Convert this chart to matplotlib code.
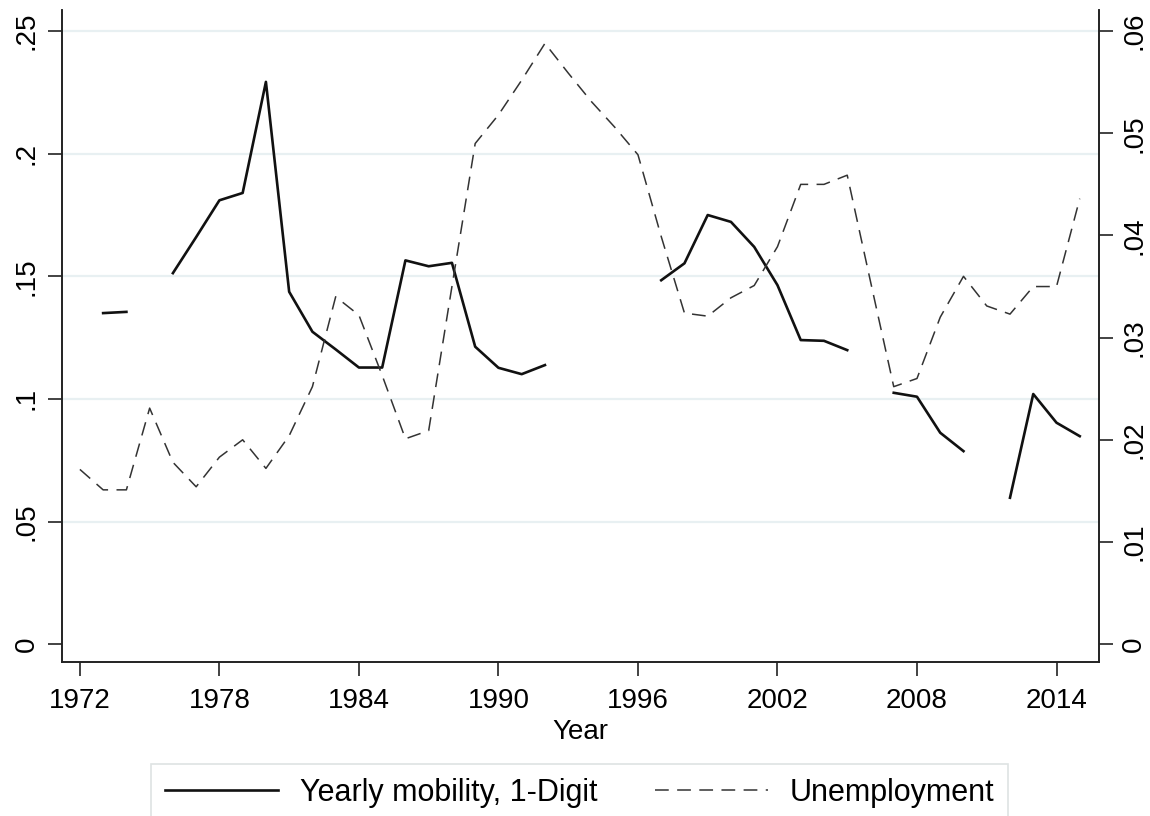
import numpy as np
import matplotlib
matplotlib.use("Agg")
import matplotlib.pyplot as plt

nan = np.nan

# Years covered by both series.
years = list(range(1972, 2016))

# Yearly occupational mobility (1-digit), gaps where no survey year.
mobility = [nan, 0.1350, 0.1355, nan, 0.1513, 0.1660, 0.1810, 0.1840, 0.2293, 0.1437,
            0.1274, 0.1202, 0.1128, 0.1128, 0.1565, 0.1541, 0.1555, 0.1213, 0.1127, 0.1101,
            0.1138, nan, nan, nan, nan, 0.1484, 0.1553, 0.1750, 0.1722, 0.1620,
            0.1464, 0.1240, 0.1237, 0.1199, nan, 0.1025, 0.1009, 0.0862, 0.0787, nan,
            0.0597, 0.1020, 0.0903, 0.0848]

# Unemployment rate (right axis).
unemployment = [0.0171, 0.0151, 0.0151, 0.0231, 0.0178, 0.0154, 0.0183, 0.0200, 0.0172, 0.0204,
                0.0252, 0.0340, 0.0322, 0.0263, 0.0201, 0.0209, 0.0350, 0.0490, 0.0518, 0.0552,
                0.0588, 0.0559, 0.0531, 0.0506, 0.0479, 0.0399, 0.0324, 0.0321, 0.0339, 0.0351,
                0.0389, 0.0450, 0.0450, 0.0459, 0.0355, 0.0252, 0.0260, 0.0320, 0.0360, 0.0331,
                0.0323, 0.0350, 0.0350, 0.0436]

xticks = [1972, 1978, 1984, 1990, 1996, 2002, 2008, 2014]
left_ticks = [0, 0.05, 0.1, 0.15, 0.2, 0.25]
left_labels = ["0", ".05", ".1", ".15", ".2", ".25"]
right_ticks = [0, 0.01, 0.02, 0.03, 0.04, 0.05, 0.06]
right_labels = ["0", ".01", ".02", ".03", ".04", ".05", ".06"]


def style_axis(ax):
    ax.spines["top"].set_visible(False)
    for side in ["left", "right", "bottom"]:
        ax.spines[side].set_linewidth(1.2)
        ax.spines[side].set_color("#222222")
    ax.tick_params(axis="both", length=10, width=1.2, color="#222222",
                   labelsize=20, pad=6)
    ax.tick_params(axis="x", pad=9)


def main():
    plt.rcParams["font.family"] = ["Liberation Sans", "DejaVu Sans"]

    fig = plt.figure(figsize=(11.5, 8.16), dpi=100)
    ax = fig.add_axes([0.0539, 0.1887, 0.9018, 0.799])
    ax2 = ax.twinx()

    # Light horizontal grid at the left-axis ticks.
    for y in left_ticks[1:]:
        ax.axhline(y, color="#e8f0f2", lw=1.6, zorder=0)

    line1, = ax.plot(years, mobility, color="#111111", lw=1.9,
                     label="Yearly mobility, 1-Digit", zorder=3)
    line2, = ax2.plot(years, unemployment, color="#333333", lw=1.1,
                      dashes=(9, 5.5), label="Unemployment", zorder=2)

    ax.set_xlim(1971.23, 2015.83)
    ax.set_ylim(-0.0073, 0.2586)
    ax2.set_ylim(-0.0073 * 0.24, 0.2586 * 0.24)

    ax.set_xticks(xticks)
    ax.set_yticks(left_ticks)
    ax.set_yticklabels(left_labels, rotation=90, va="center")
    ax2.set_yticks(right_ticks)
    ax2.set_yticklabels(right_labels, rotation=90, va="center")

    style_axis(ax)
    style_axis(ax2)

    ax.set_xlabel("Year", fontsize=20, labelpad=3)

    leg = fig.legend(handles=[line1, line2], loc="upper center",
                     bbox_to_anchor=(0.504, 1 - 764 / 816), ncol=2,
                     fontsize=22, frameon=True, fancybox=False,
                     handlelength=3.7, handletextpad=0.7, columnspacing=1.9,
                     borderpad=0.45, borderaxespad=0)
    leg.get_frame().set_edgecolor("#d6dcdc")
    leg.get_frame().set_linewidth(1.2)

    fig.savefig("out.png", dpi=100)


if __name__ == '__main__':
    main()
